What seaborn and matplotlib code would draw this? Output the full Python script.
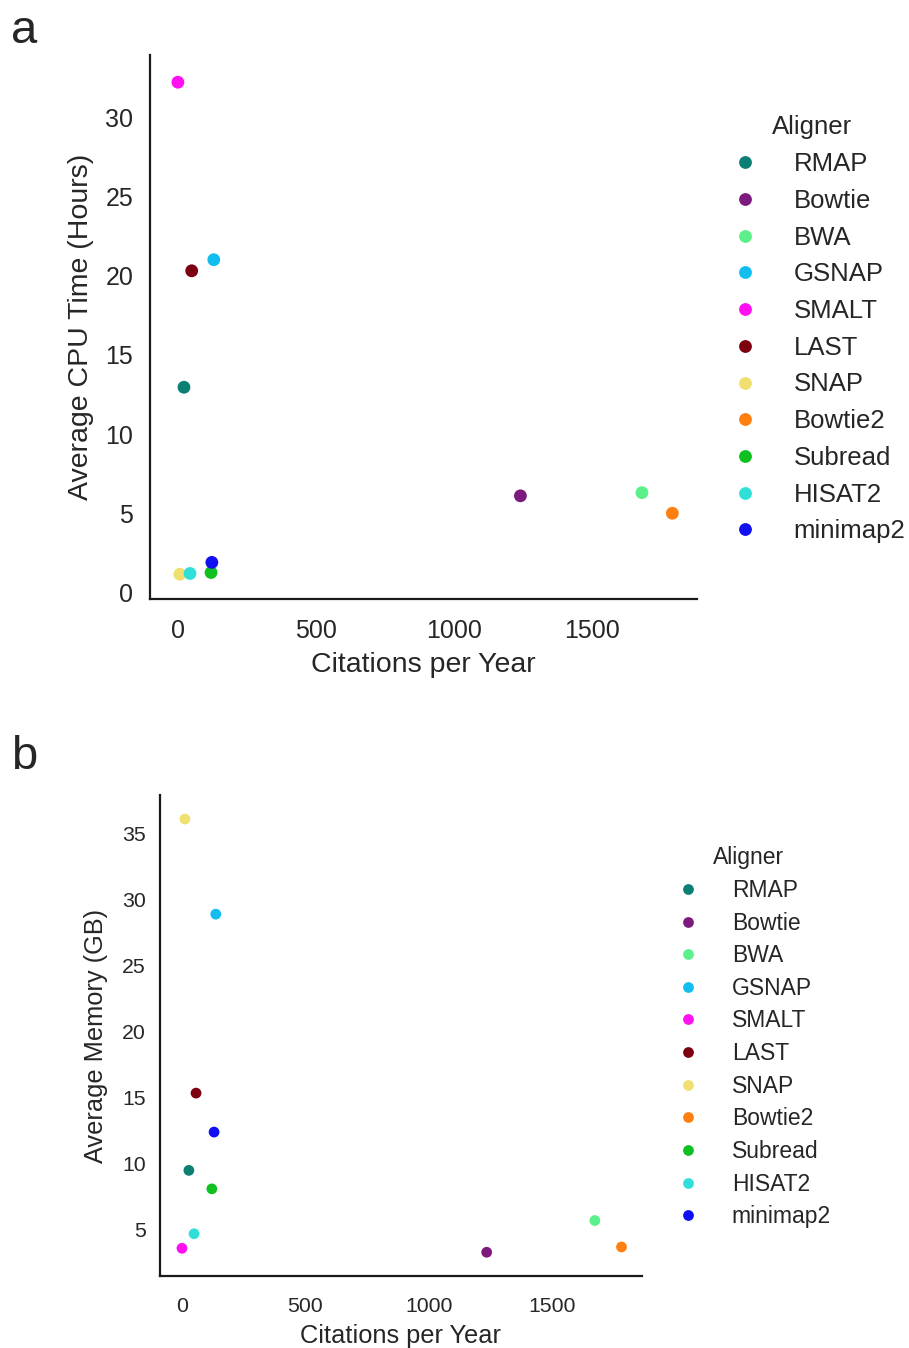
import pandas as pd
import numpy as np
import matplotlib.pyplot as plt
import seaborn as sns

aligners = ["RMAP", "Bowtie", "BWA", "GSNAP", "SMALT", "LAST",
            "SNAP", "Bowtie2", "Subread", "HISAT2", "minimap2"]
colores = ["#0b7f74", "#7d1a7d", "#5cf08a", "#12bdf0", "#ff10f0", "#7d0010",
           "#f0e070", "#ff8010", "#10c020", "#30e0d8", "#1010f0"]

# panel a
cit_a = [22, 1240, 1680, 130, 0, 50, 7, 1790, 120, 44, 123]
cpu_horas = [12.95, 6.1, 6.3, 21.0, 32.2, 20.3, 1.15, 5.0, 1.26, 1.2, 1.9]

# panel b
cit_b = [28, 1234, 1672, 137, 0, 57, 12, 1780, 121, 49, 130]
memoria_gb = [9.5, 3.3, 5.7, 28.9, 3.6, 15.35, 36.1, 3.7, 8.1, 4.7, 12.4]

df_a = pd.DataFrame({"Aligner": aligners, "Citations per Year": cit_a,
                     "Average CPU Time (Hours)": cpu_horas})
df_b = pd.DataFrame({"Aligner": aligners, "Citations per Year": cit_b,
                     "Average Memory (GB)": memoria_gb})

sns.set_theme(style="white")
plt.rcParams["font.family"] = ["Liberation Sans", "DejaVu Sans"]
paleta = dict(zip(aligners, colores))

fig = plt.figure(figsize=(9.09, 13.48), dpi=100)

def panel(ax, df, ycol, xlim, ylim, yticks, fs_tick, fs_lab, fs_leg, s,
          pads, leg_anchor, leg_space, txtpad):
    sns.scatterplot(data=df, x="Citations per Year", y=ycol, hue="Aligner",
                    hue_order=aligners, palette=paleta, s=s, linewidth=0,
                    ax=ax)
    ax.set_xlim(*xlim)
    ax.set_ylim(*ylim)
    ax.set_xticks([0, 500, 1000, 1500])
    ax.set_yticks(yticks)
    ax.tick_params(axis="x", labelsize=fs_tick, pad=pads[0], length=0)
    ax.tick_params(axis="y", labelsize=fs_tick, pad=pads[1], length=0)
    ax.set_xlabel("Citations per Year", fontsize=fs_lab, labelpad=pads[2])
    ax.set_ylabel(ycol, fontsize=fs_lab, labelpad=pads[3])
    sns.despine(ax=ax)
    for sp in ["left", "bottom"]:
        ax.spines[sp].set_color("#1a1a1a")
        ax.spines[sp].set_linewidth(1.6)
    ax.legend_.remove()
    h, l = ax.get_legend_handles_labels()
    fig.legend(h, l, title="Aligner", loc="upper left",
               bbox_to_anchor=leg_anchor, frameon=False,
               fontsize=fs_leg, title_fontsize=fs_leg, markerscale=1.0,
               labelspacing=leg_space, handletextpad=txtpad)

ax1 = fig.add_axes([0.165, 0.556, 0.602, 0.403])
panel(ax1, df_a, "Average CPU Time (Hours)", (-101, 1880), (-0.38, 33.9),
      [0, 5, 10, 15, 20, 25, 30], 18, 20.5, 18.5, 85,
      (15, 12, 6, 8), (0.7655, 0.9315), 0.495, 0.9)

ax2 = fig.add_axes([0.176, 0.0534, 0.530, 0.3566])
panel(ax2, df_b, "Average Memory (GB)", (-89, 1862), (1.5, 37.9),
      [5, 10, 15, 20, 25, 30, 35], 15.3, 18.3, 16.5, 60,
      (15, 10, 6, 10), (0.7094, 0.3875), 0.42, 0.9)

fig.text(0.012, 0.993, "a", fontsize=34, va="top", ha="left")
fig.text(0.012, 0.455, "b", fontsize=34, va="top", ha="left")

fig.savefig("out.png", dpi=100)
